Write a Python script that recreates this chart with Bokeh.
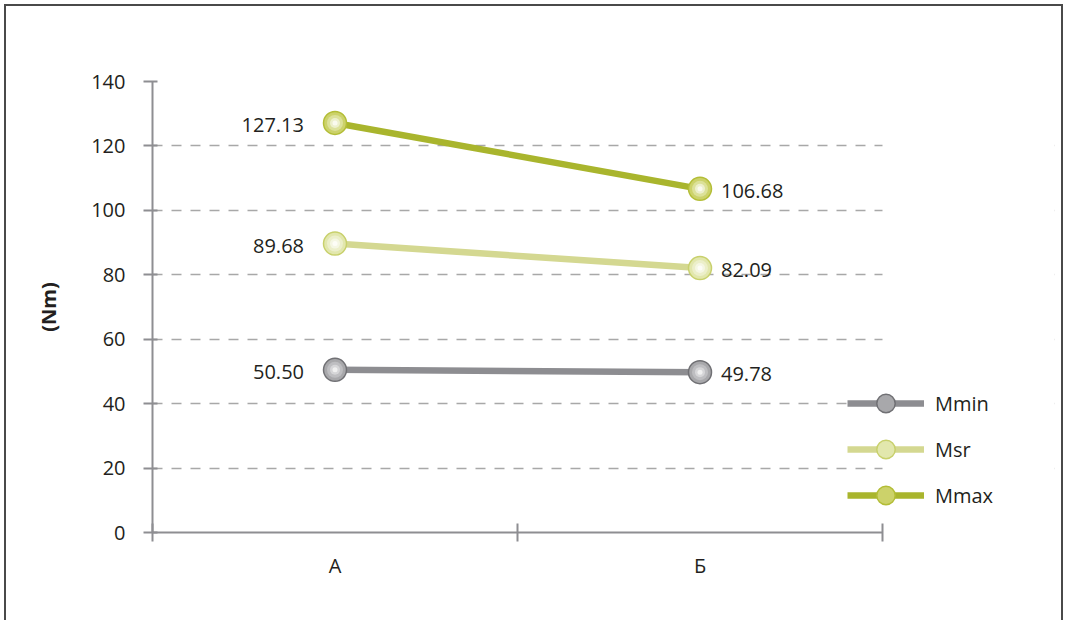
from bokeh.plotting import figure
from bokeh.models import (Range1d, LinearAxis, FixedTicker, ColumnDataSource,
                          LabelSet, Legend, LegendItem, BoxAnnotation)
from bokeh.embed import file_html
from bokeh.resources import INLINE
from bokeh.core.properties import value

# ---------------- data ----------------
categories = ["А", "Б"]
series_names = ["Mmin", "Msr", "Mmax"]
mmin = [50.50, 49.78]
msr = [89.68, 82.09]
mmax = [127.13, 106.68]
y_ticks = [0, 20, 40, 60, 80, 100, 120, 140]
y_label = "(Nm)"

# category slot centres / boundaries on a numeric x scale
xc = [i + 0.5 for i in range(len(categories))]
xb = list(range(len(categories) + 1))

# ---------------- styles ----------------
FONT = "Open Sans"
AXIS_GRAY = "#8e8e92"
TEXT = "#231f20"
styles = {
    "Mmin": dict(line="#8d8d91", edge="#707074", layers=["#a8a8ab", "#bebec1", "#d6d6d8", "#f0f0f0"]),
    "Msr": dict(line="#d4d891", edge="#c8d06c", layers=["#e2e7ad", "#ecefca", "#f5f7e4", "#fdfdf7"]),
    "Mmax": dict(line="#a9b52d", edge="#b3bd36", layers=["#ccd26a", "#dce199", "#edf0cd", "#fafaef"]),
}
layer_sizes = [23, 16, 10, 5]

# plot area reaches further right than the axis so the legend is not clipped
AXIS_PX = 730      # pixel length of the category axis
FRAME_PX = 902     # pixel width of the plotting frame
x_end = xb[-1] * FRAME_PX / AXIS_PX

p = figure(width=1059, height=616,
           x_range=Range1d(xb[0], x_end),
           y_range=Range1d(y_ticks[0], y_ticks[-1]),
           output_backend="svg", toolbar_location=None,
           min_border_left=146, min_border_right=11,
           min_border_top=75, min_border_bottom=90)
p.styles = {"border-top": "2px solid #4a4a4a", "border-left": "2px solid #4a4a4a",
            "border-right": "2px solid #4a4a4a", "margin-left": "4px", "margin-top": "4px"}
p.outline_line_color = None
p.background_fill_color = "white"
p.border_fill_color = "white"

# grid
p.xgrid.visible = False
p.ygrid.grid_line_color = "#a8a8a8"
p.ygrid.grid_line_width = 1.5
p.ygrid.grid_line_dash = "10 9"
# hide gridlines beyond the last category boundary
p.add_layout(BoxAnnotation(left=xb[-1], fill_color="white", fill_alpha=1.0,
                           line_color=None, level="underlay"))

# y axis
ya = p.yaxis[0]
ya.ticker = FixedTicker(ticks=y_ticks)
ya.axis_line_color = AXIS_GRAY
ya.axis_line_width = 2
ya.major_tick_line_color = AXIS_GRAY
ya.major_tick_line_width = 2
ya.major_tick_in = 5
ya.major_tick_out = 9
ya.minor_tick_line_color = None
ya.major_label_text_font = FONT
ya.major_label_text_font_size = "20px"
ya.major_label_text_color = TEXT
ya.major_label_standoff = 18
ya.axis_label = y_label
ya.axis_label_text_font = FONT
ya.axis_label_text_font_size = "20px"
ya.axis_label_text_font_style = "bold"
ya.axis_label_text_color = TEXT
ya.axis_label_standoff = 26

# x axis: boundary ticks (first axis, labels hidden), category labels (second axis)
bax = p.xaxis[0]
bax.ticker = FixedTicker(ticks=xb)
bax.bounds = (xb[0], xb[-1])
bax.major_label_text_color = None
bax.major_label_text_font_size = "10px"
bax.major_label_standoff = 0
bax.axis_line_color = AXIS_GRAY
bax.axis_line_width = 2
bax.major_tick_line_color = AXIS_GRAY
bax.major_tick_line_width = 2
bax.major_tick_in = 9
bax.major_tick_out = 9
bax.minor_tick_line_color = None

lax = LinearAxis(ticker=FixedTicker(ticks=xc),
                 major_label_overrides={x: c for x, c in zip(xc, categories)},
                 axis_line_color=None, major_tick_line_color=None, minor_tick_line_color=None,
                 major_label_text_font=FONT, major_label_text_font_size="20px",
                 major_label_text_color=TEXT, major_label_standoff=4)
p.add_layout(lax, "below")

# series
data = {"Mmin": mmin, "Msr": msr, "Mmax": mmax}
items = []
for name in series_names:
    st = styles[name]
    vals = data[name]
    lr = p.line(xc, vals, line_color=st["line"], line_width=6.5)
    outer = None
    for i, (sz, col) in enumerate(zip(layer_sizes, st["layers"])):
        if i == 0:
            outer = p.scatter(xc, vals, size=sz, fill_color=col,
                              line_color=st["edge"], line_width=1.5)
        else:
            p.scatter(xc, vals, size=sz, fill_color=col, line_color=None)
    items.append(LegendItem(label=name, renderers=[lr, outer]))

# data labels
left_vals = [data[n][0] for n in series_names]
right_vals = [data[n][1] for n in series_names]
left_src = ColumnDataSource(dict(x=[xc[0]] * len(left_vals), y=left_vals,
                                 t=[f"{v:.2f}" for v in left_vals]))
right_src = ColumnDataSource(dict(x=[xc[1]] * len(right_vals), y=right_vals,
                                  t=[f"{v:.2f}" for v in right_vals]))
p.add_layout(LabelSet(x="x", y="y", text="t", source=left_src, x_offset=-31, y_offset=-2,
                      text_align="right", text_baseline="middle",
                      text_font=value(FONT), text_font_size="20px", text_color=TEXT))
p.add_layout(LabelSet(x="x", y="y", text="t", source=right_src, x_offset=21, y_offset=-2,
                      text_align="left", text_baseline="middle",
                      text_font=value(FONT), text_font_size="20px", text_color=TEXT))

legend = Legend(items=items, location=(695, 14), glyph_width=77, glyph_height=46,
                spacing=0, padding=0, margin=0, border_line_color=None,
                background_fill_alpha=0, label_text_font=FONT, label_text_font_size="20px",
                label_text_color=TEXT, label_standoff=11)
p.add_layout(legend)

open("out.html", "w").write(file_html(p, INLINE))
